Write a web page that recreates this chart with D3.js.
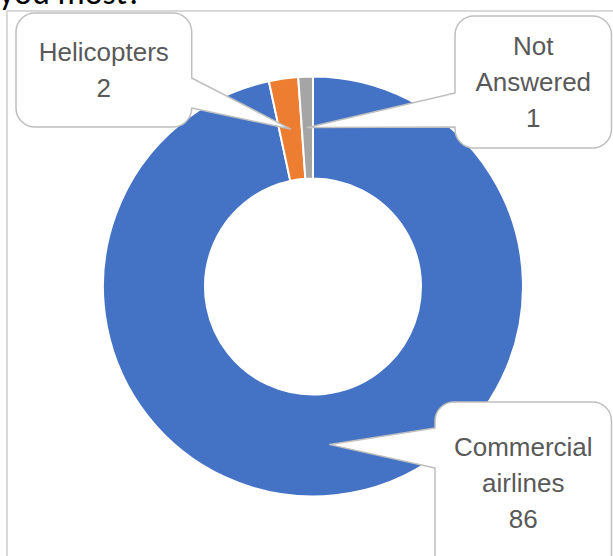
<!DOCTYPE html>
<html>
<head>
<meta charset="utf-8">
<script src="https://cdn.jsdelivr.net/npm/d3@7"></script>
<style>
  html, body { margin: 0; padding: 0; background: #fff; overflow: hidden; }
  svg { display: block; }
</style>
</head>
<body>
<svg id="chart" width="613" height="556"></svg>
<script>
// ---- data ----
const categories = ["Commercial airlines", "Helicopters", "Not Answered"];
const values = [86, 2, 1];
const labelLines = [["Commercial", "airlines"], ["Helicopters"], ["Not", "Answered"]];
const colors = ["#4472C4", "#ED7D31", "#A5A5A5"];
const titleText = "you most?";

// ---- layout ----
const W = 613, H = 556;
const cx = 313, cy = 286.5;
const outerR = 210, innerR = 108;
const fontFamily = "'Liberation Sans', Arial, sans-serif";
const lineH = 36;

// callout boxes: [x0, y0, x1, y1], side of wedge, wedge base [b1, b2], first baseline
const calloutLayout = [
  { box: [435, 402, 611.5, 600], side: "left",  base: [428, 468], firstBaseline: 456 },
  { box: [16, 13, 191.7, 127],   side: "right", base: [78, 108],  firstBaseline: 61 },
  { box: [455, 16, 611.5, 148],  side: "left",  base: [93, 127],  firstBaseline: 55 }
];

const svg = d3.select("#chart");

// top (cropped) title
svg.append("text")
  .attr("x", -1).attr("y", 4)
  .attr("font-family", "Calibri, 'Liberation Sans', Arial, sans-serif")
  .attr("font-size", 34)
  .attr("fill", "#000")
  .text(titleText);

// chart area border
svg.append("rect")
  .attr("x", 7).attr("y", 11)
  .attr("width", 800).attr("height", 800)
  .attr("fill", "none")
  .attr("stroke", "#D9D9D9")
  .attr("stroke-width", 2);

const data = categories.map((c, i) => ({ name: c, value: values[i], lines: labelLines[i], color: colors[i] }));

const pie = d3.pie().sort(null).value(d => d.value);
const arcs = pie(data);
const arc = d3.arc().innerRadius(innerR).outerRadius(outerR);

const g = svg.append("g").attr("transform", `translate(${cx},${cy})`);
g.selectAll("path.slice")
  .data(arcs)
  .join("path")
  .attr("class", "slice")
  .attr("d", arc)
  .attr("fill", d => d.data.color)
  .attr("stroke", "#fff")
  .attr("stroke-width", 2);

// callouts
function calloutPath(box, side, base, tip) {
  const [x0, y0, x1, y1] = box;
  const r = 19;
  const p = d3.path();
  p.moveTo(x0 + r, y0);
  p.lineTo(x1 - r, y0);
  p.arcTo(x1, y0, x1, y0 + r, r);
  if (side === "right") {
    p.lineTo(x1, base[0]);
    p.lineTo(tip[0], tip[1]);
    p.lineTo(x1, base[1]);
  }
  p.lineTo(x1, y1 - r);
  p.arcTo(x1, y1, x1 - r, y1, r);
  p.lineTo(x0 + r, y1);
  p.arcTo(x0, y1, x0, y1 - r, r);
  if (side === "left") {
    p.lineTo(x0, base[1]);
    p.lineTo(tip[0], tip[1]);
    p.lineTo(x0, base[0]);
  }
  p.lineTo(x0, y0 + r);
  p.arcTo(x0, y0, x0 + r, y0, r);
  p.closePath();
  return p.toString();
}

const labels = svg.append("g");
arcs.forEach((a, i) => {
  const L = calloutLayout[i];
  const c = arc.centroid(a);
  const tip = [cx + c[0], cy + c[1]];
  labels.append("path")
    .attr("d", calloutPath(L.box, L.side, L.base, tip))
    .attr("fill", "#fff")
    .attr("stroke", "#BFBFBF")
    .attr("stroke-width", 1.5)
    .attr("stroke-linejoin", "round");
  const tx = (L.box[0] + L.box[2]) / 2;
  const lines = a.data.lines.concat([String(a.data.value)]);
  const t = labels.append("text")
    .attr("text-anchor", "middle")
    .attr("font-family", fontFamily)
    .attr("font-size", 26)
    .attr("fill", "#595959");
  lines.forEach((ln, k) => {
    t.append("tspan")
      .attr("x", tx)
      .attr("y", L.firstBaseline + k * lineH)
      .text(ln);
  });
});
</script>
</body>
</html>
